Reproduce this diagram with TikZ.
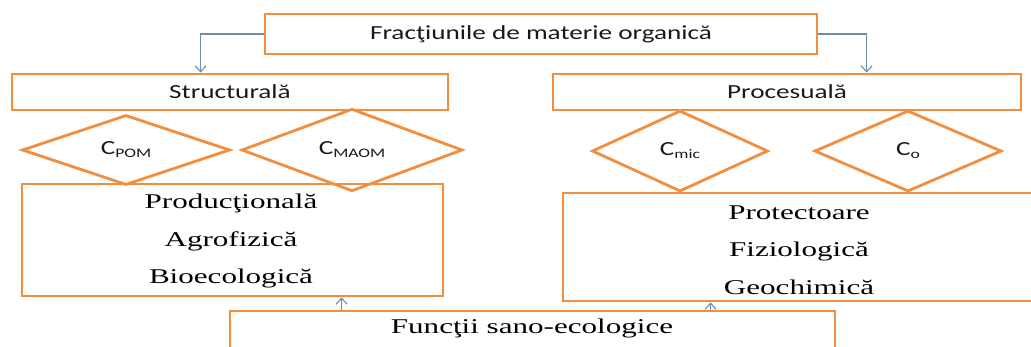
\documentclass[tikz,border=0pt]{standalone}
\usepackage{fontspec}
\setmainfont{Liberation Serif}
\newfontfamily\calfont{Carlito}[FakeStretch=1.36]
\newfontfamily\timeswide{Liberation Serif}[FakeStretch=1.48]
\usetikzlibrary{arrows.meta, positioning, shapes.geometric, calc}
\definecolor{boxorange}{HTML}{F28E3F}
\definecolor{arrblue}{HTML}{6D8BAE}
\newcommand{\lowsub}[1]{\raisebox{-3pt}{\fontsize{13}{13}\selectfont #1}}
\tikzset{
    framebox/.style={rectangle, draw=boxorange, line width=2.8pt, inner sep=0pt},
    headnode/.style={framebox, font=\calfont\fontsize{20}{24}\selectfont, text=black!90},
    diamnode/.style={diamond, draw=boxorange, line width=2.8pt, inner sep=0pt, font=\calfont\fontsize{20}{24}\selectfont, text=black!90},
    funcnode/.style={font=\timeswide\fontsize{21}{37.5}\selectfont, text=black, align=center, inner sep=0pt},
    arrline/.style={draw=arrblue, line width=1.1pt, -{Straight Barb[length=6pt, width=11pt]}}
}

\begin{document}
\begin{tikzpicture}[x=1pt, y=-1pt]
\useasboundingbox (0,0) rectangle (1031,346);
% boxes
\node[headnode, minimum width=552, minimum height=40] (top) at (541,34) {Fracţiunile de materie organică};
\node[headnode, minimum width=436, minimum height=36] (struct) at (230,92) {Structurală};
\node[headnode, minimum width=468, minimum height=36] (proc) at (787,92) {Procesuală};
% diamonds
\node[diamnode, minimum width=208, minimum height=70] (cpom) at (126,150) {C\lowsub{POM}};
\node[diamnode, minimum width=221, minimum height=70] (cmaom) at (352,150) {C\lowsub{MAOM}};
\node[diamnode, minimum width=176, minimum height=81] (cmic) at (680,151) {C\lowsub{mic}};
\node[diamnode, minimum width=187, minimum height=81] (co) at (908,151) {C\lowsub{o}};
% functions
\node[framebox, minimum width=421, minimum height=112] (prod) at (232.5,240) {};
\node[framebox, minimum width=477, minimum height=108] (prot) at (801.5,247) {};
\node[framebox, minimum width=605, minimum height=41] (func) at (532.5,331.5) {};
\node[funcnode] (prodtxt) at (231,241) {Producţională\\Agrofizică\\Bioecologică};
\node[funcnode] (prottxt) at (799,250) {Protectoare\\Fiziologică\\Geochimică};
\node[funcnode] (functxt) at (532,328) {Funcţii sano-ecologice};
% connectors
\draw[arrline] (top.west) -| ([xshift=190pt]struct.north west);
\draw[arrline] (top.east) -| ([xshift=315pt]proc.north west);
\draw[arrline] ([xshift=113pt]func.north west) -- ([xshift=113pt]func.north west |- prod.south);
\draw[arrline] ([xshift=482pt]func.north west) -- ([xshift=482pt]func.north west |- prot.south);
\end{tikzpicture}
\end{document}
